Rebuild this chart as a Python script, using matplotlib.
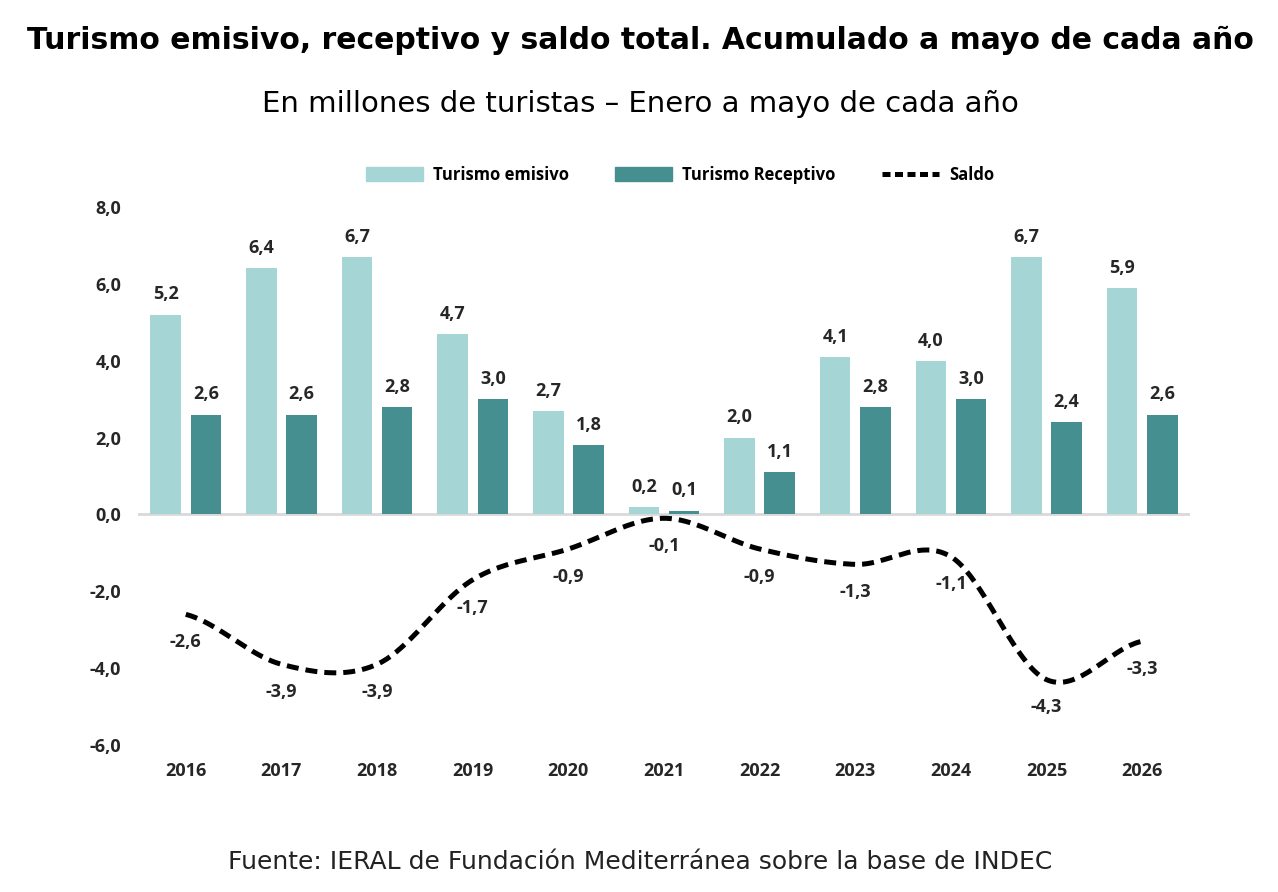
import matplotlib
matplotlib.use("Agg")
import matplotlib.pyplot as plt
import numpy as np
from matplotlib.patches import Patch
from matplotlib.lines import Line2D

years = ["2016", "2017", "2018", "2019", "2020", "2021", "2022", "2023", "2024", "2025", "2026"]
emisivo = [5.2, 6.4, 6.7, 4.7, 2.7, 0.2, 2.0, 4.1, 4.0, 6.7, 5.9]
receptivo = [2.6, 2.6, 2.8, 3.0, 1.8, 0.1, 1.1, 2.8, 3.0, 2.4, 2.6]
saldo = [-2.6, -3.9, -3.9, -1.7, -0.9, -0.1, -0.9, -1.3, -1.1, -4.3, -3.3]
yticks = [-6.0, -4.0, -2.0, 0.0, 2.0, 4.0, 6.0, 8.0]

LIGHT = "#a6d5d6"
DARK = "#458f91"
TXT = "#262626"
narrow = ["Liberation Sans Narrow", "Open Sans", "DejaVu Sans"]
wide = ["DejaVu Sans"]


def fmt(v):
    return f"{v:.1f}".replace(".", ",")


def catmull_rom(x, y, n=40):
    x = np.asarray(x, float)
    y = np.asarray(y, float)
    xs, ys = [], []
    m = np.zeros_like(y)
    m[1:-1] = (y[2:] - y[:-2]) / 2.0
    m[0] = (y[1] - y[0]) * 0.5
    m[-1] = (y[-1] - y[-2]) * 0.5
    for i in range(len(x) - 1):
        t = np.linspace(0, 1, n, endpoint=False)
        h00 = 2 * t**3 - 3 * t**2 + 1
        h10 = t**3 - 2 * t**2 + t
        h01 = -2 * t**3 + 3 * t**2
        h11 = t**3 - t**2
        xs.append(x[i] + t * (x[i + 1] - x[i]))
        ys.append(h00 * y[i] + h10 * m[i] + h01 * y[i + 1] + h11 * m[i + 1])
    xs.append([x[-1]])
    ys.append([y[-1]])
    return np.concatenate(xs), np.concatenate(ys)


fig = plt.figure(figsize=(12.78, 8.92), dpi=100)
ax = fig.add_axes([138 / 1278, 1 - 745 / 892, (1190 - 138) / 1278, (745 - 207) / 892])

x = np.arange(len(years))
w = 0.32
off = 0.21
ax.bar(x - off, emisivo, w, color=LIGHT, zorder=2)
ax.bar(x + off, receptivo, w, color=DARK, zorder=2)
ax.axhline(0, color="#d9d9d9", lw=2, zorder=1)

sx, sy = catmull_rom(x, saldo)
ax.plot(sx, sy, color="black", lw=3.6, dashes=(2.4, 1.4), dash_capstyle="butt", zorder=3)

for xi, v in zip(x - off, emisivo):
    ax.annotate(fmt(v), (xi, v), xytext=(0, 8), textcoords="offset points",
                ha="center", va="bottom", fontsize=13, fontweight="bold", color=TXT, family=narrow)
for xi, v in zip(x + off, receptivo):
    ax.annotate(fmt(v), (xi, v), xytext=(0, 8), textcoords="offset points",
                ha="center", va="bottom", fontsize=13, fontweight="bold", color=TXT, family=narrow)
for xi, v in zip(x, saldo):
    ax.annotate(fmt(v), (xi, v), xytext=(0, -20), textcoords="offset points",
                ha="center", va="center", fontsize=13, fontweight="bold", color=TXT, family=narrow)

ax.set_xlim(-0.5, len(years) - 0.5)
ax.set_ylim(-6, 8)
ax.set_yticks(yticks)
ax.set_yticklabels([fmt(v) for v in yticks], fontsize=13, fontweight="bold", color=TXT, family=narrow)
ax.set_xticks(x)
ax.set_xticklabels(years, fontsize=13, fontweight="bold", color=TXT, family=narrow)
ax.tick_params(axis="both", length=0)
ax.tick_params(axis="y", pad=12)
ax.tick_params(axis="x", pad=12)
for s in ax.spines.values():
    s.set_visible(False)

handles = [Patch(color=LIGHT, label="Turismo emisivo"),
           Patch(color=DARK, label="Turismo Receptivo"),
           Line2D([0], [0], color="black", lw=3.6, dashes=(1.6, 0.9), label="Saldo")]
fig.legend(handles=handles, loc="center", bbox_to_anchor=(680 / 1278, 1 - 175 / 892), ncol=3,
           frameon=False, prop={"family": narrow, "weight": "bold", "size": 12},
           handlelength=3.4, handleheight=0.9, columnspacing=2.8, handletextpad=0.6)

fig.text(640 / 1278, 1 - 40 / 892, "Turismo emisivo, receptivo y saldo total. Acumulado a mayo de cada año",
         ha="center", va="center", fontsize=21.5, fontweight="bold", family=wide, color="black")
fig.text(640 / 1278, 1 - 104 / 892, "En millones de turistas – Enero a mayo de cada año",
         ha="center", va="center", fontsize=21, family=wide, color="black")
fig.text(640 / 1278, 1 - 862 / 892, "Fuente: IERAL de Fundación Mediterránea sobre la base de INDEC",
         ha="center", va="center", fontsize=18, family=wide, color="#222222")

fig.savefig("out.png", dpi=100, facecolor="white")
